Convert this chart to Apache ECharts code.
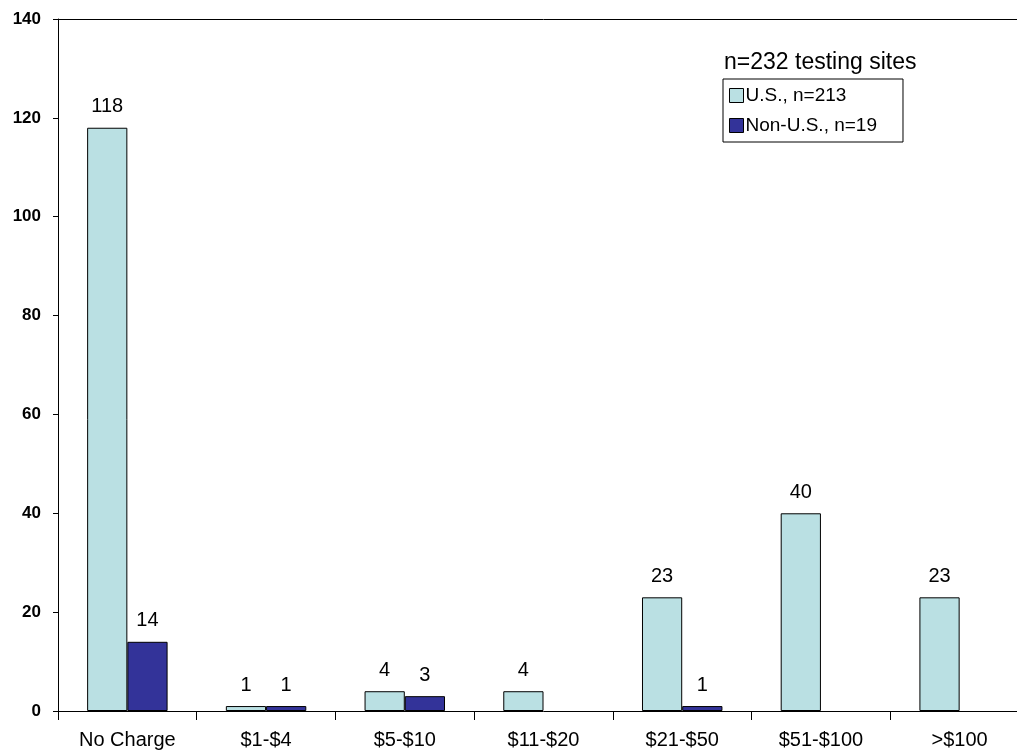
<!DOCTYPE html>
<html>
<head>
<meta charset="utf-8">
<script src="https://cdn.jsdelivr.net/npm/echarts@6/dist/echarts.min.js"></script>
<style>
  html, body { margin: 0; padding: 0; background: #fff; overflow: hidden; }
  #chart { width: 1029px; height: 755px; }
</style>
</head>
<body>
<div id="chart"></div>
<script>
var categories = ['No Charge', '$1-$4', '$5-$10', '$11-$20', '$21-$50', '$51-$100', '>$100'];
var usValues = [118, 1, 4, 4, 23, 40, 23];
var nonUsValues = [14, 1, 3, null, 1, null, null];
var yTicks = [0, 20, 40, 60, 80, 100, 120, 140];

// chart is a bit wider than the window: the last category runs off the right edge like the original
var chart = echarts.init(document.getElementById('chart'));

var labelStyle = {
    show: true,
    position: 'top',
    distance: 11,
    color: '#000',
    fontFamily: 'Liberation Sans, Arial, sans-serif',
    fontSize: 20
};

var option = {
    animation: false,
    backgroundColor: '#fff',
    title: {
        text: 'n=232 testing sites',
        left: 719,
        top: 46,
        textStyle: {
            fontFamily: 'Liberation Sans, Arial, sans-serif',
            fontSize: 23,
            fontWeight: 'normal',
            color: '#000'
        }
    },
    legend: {
        orient: 'vertical',
        left: 723,
        top: 79,
        padding: [7, 26, 7, 6],
        itemGap: 11,
        itemWidth: 14,
        itemHeight: 14,
        icon: 'rect',
        borderColor: '#000',
        borderWidth: 1,
        itemStyle: { borderColor: '#000', borderWidth: 1 },
        textStyle: {
            fontFamily: 'Liberation Sans, Arial, sans-serif',
            fontSize: 19,
            color: '#000',
            padding: [0, 0, 0, -3]
        },
        data: ['U.S., n=213', 'Non-U.S., n=19']
    },
    grid: {
        left: 58,
        right: 0,
        top: 19,
        bottom: 44
    },
    xAxis: [{
        type: 'category',
        data: categories,
        axisLine: { lineStyle: { color: '#000', width: 1 } },
        axisTick: { show: true, length: 9, inside: false, lineStyle: { color: '#000' } },
        axisLabel: {
            color: '#000',
            fontFamily: 'Liberation Sans, Arial, sans-serif',
            fontSize: 20,
            margin: 19
        }
    }, {
        // top frame line
        type: 'value',
        position: 'top',
        min: 0,
        max: 1,
        axisLine: { show: true, lineStyle: { color: '#000', width: 1 } },
        axisTick: { show: false },
        axisLabel: { show: false },
        splitLine: { show: false }
    }],
    yAxis: {
        type: 'value',
        min: yTicks[0],
        max: yTicks[yTicks.length - 1],
        interval: 20,
        axisLine: { show: true, lineStyle: { color: '#000', width: 1 } },
        axisTick: { show: true, length: 5, lineStyle: { color: '#000' } },
        splitLine: { show: false },
        axisLabel: {
            color: '#000',
            fontFamily: 'Liberation Sans, Arial, sans-serif',
            fontSize: 17,
            fontWeight: 'bold',
            margin: 17
        }
    },
    series: [
        {
            name: 'U.S., n=213',
            type: 'bar',
            data: usValues,
            barGap: '0%',
            barCategoryGap: '42%',
            itemStyle: { color: '#BAE0E3', borderColor: '#000', borderWidth: 1 },
            label: labelStyle
        },
        {
            name: 'Non-U.S., n=19',
            type: 'bar',
            data: nonUsValues,
            itemStyle: { color: '#333399', borderColor: '#000', borderWidth: 1 },
            label: labelStyle
        }
    ]
};
chart.setOption(option);
</script>
</body>
</html>
